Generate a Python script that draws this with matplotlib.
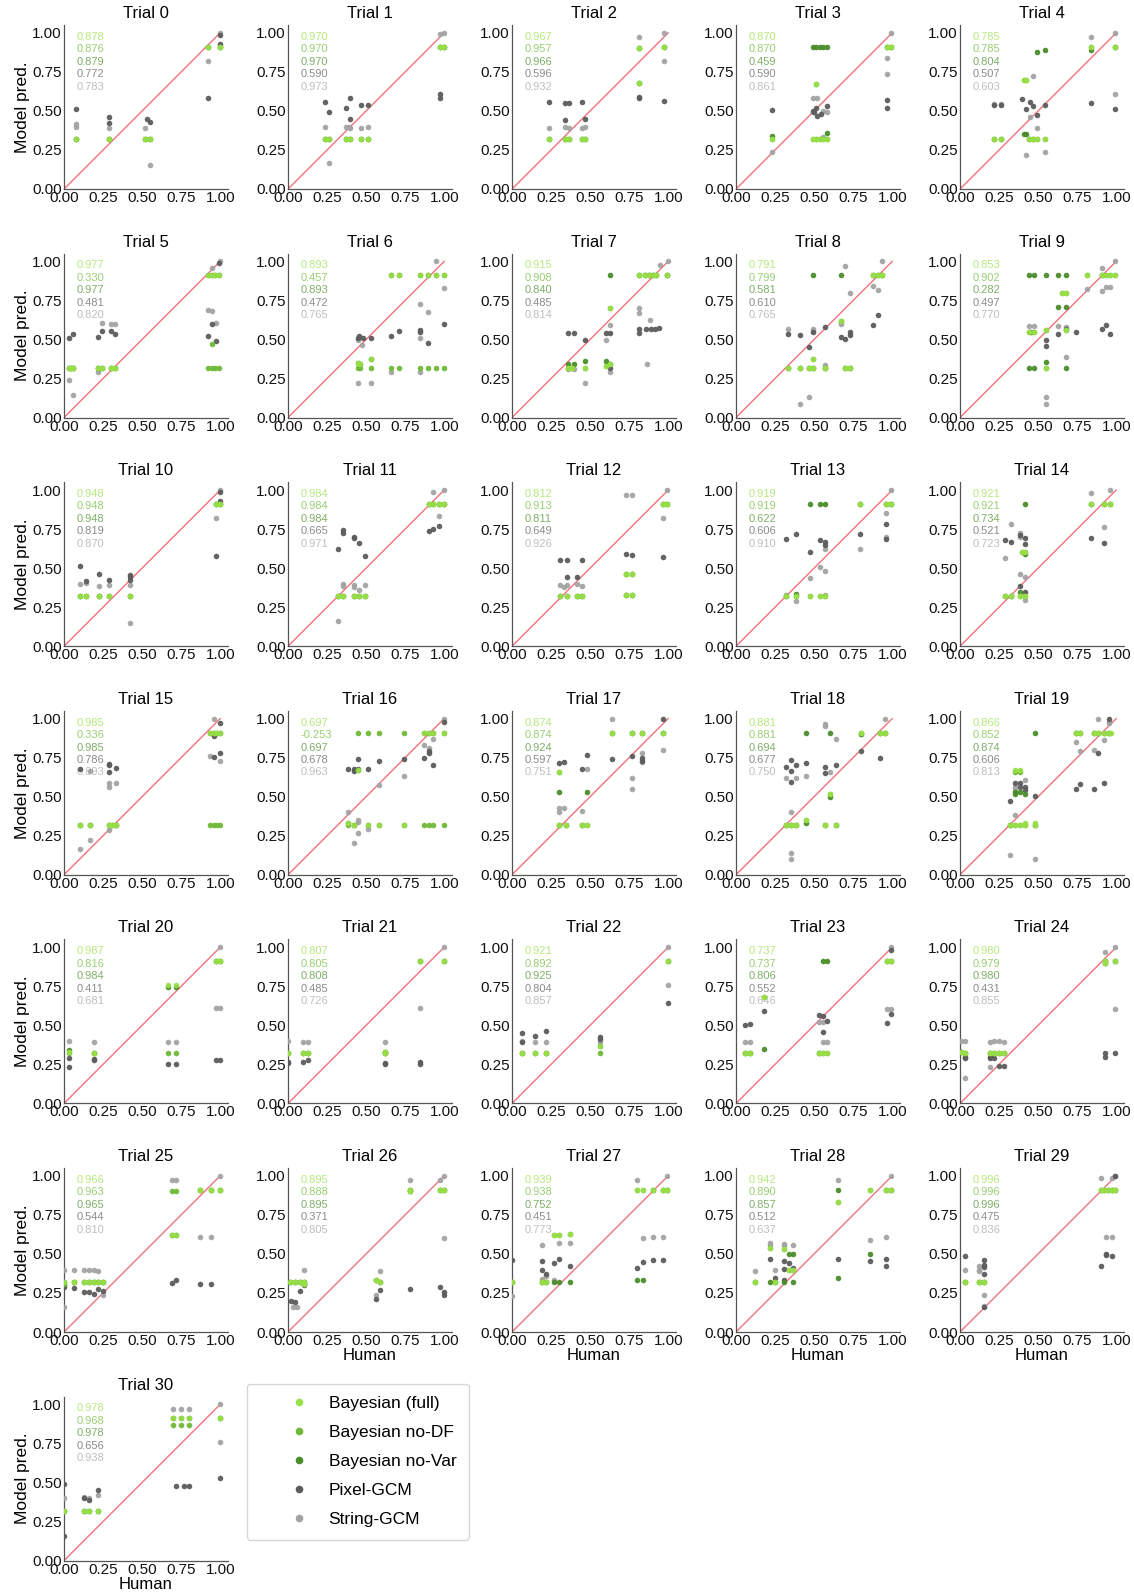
import matplotlib
matplotlib.use("Agg")
import matplotlib.pyplot as plt
from matplotlib.lines import Line2D

plt.rcParams['font.family'] = ['Liberation Sans', 'DejaVu Sans']

# model names and colours
models = ['Bayesian (full)', 'Bayesian no-DF', 'Bayesian no-Var', 'Pixel-GCM', 'String-GCM']
colors = ['#98df48', '#6eb937', '#4a8c2a', '#5c5c5c', '#a3a3a3']

# correlation printed in each panel (full, no-DF, no-Var, Pixel, String)
corrs = [
    ['0.878', '0.876', '0.879', '0.772', '0.783'],
    ['0.970', '0.970', '0.970', '0.590', '0.973'],
    ['0.967', '0.957', '0.966', '0.596', '0.932'],
    ['0.870', '0.870', '0.459', '0.590', '0.861'],
    ['0.785', '0.785', '0.804', '0.507', '0.603'],
    ['0.977', '0.330', '0.977', '0.481', '0.820'],
    ['0.893', '0.457', '0.893', '0.472', '0.765'],
    ['0.915', '0.908', '0.840', '0.485', '0.814'],
    ['0.791', '0.799', '0.581', '0.610', '0.765'],
    ['0.853', '0.902', '0.282', '0.497', '0.770'],
    ['0.948', '0.948', '0.948', '0.819', '0.870'],
    ['0.984', '0.984', '0.984', '0.665', '0.971'],
    ['0.812', '0.913', '0.811', '0.649', '0.926'],
    ['0.919', '0.919', '0.622', '0.606', '0.910'],
    ['0.921', '0.921', '0.734', '0.521', '0.723'],
    ['0.985', '0.336', '0.985', '0.786', '0.893'],
    ['0.697', '-0.253', '0.697', '0.678', '0.963'],
    ['0.874', '0.874', '0.924', '0.597', '0.751'],
    ['0.881', '0.881', '0.694', '0.677', '0.750'],
    ['0.866', '0.852', '0.874', '0.606', '0.813'],
    ['0.987', '0.816', '0.984', '0.411', '0.681'],
    ['0.807', '0.805', '0.808', '0.485', '0.726'],
    ['0.921', '0.892', '0.925', '0.804', '0.857'],
    ['0.737', '0.737', '0.806', '0.552', '0.646'],
    ['0.980', '0.979', '0.980', '0.431', '0.855'],
    ['0.966', '0.963', '0.965', '0.544', '0.810'],
    ['0.895', '0.888', '0.895', '0.371', '0.805'],
    ['0.939', '0.938', '0.752', '0.451', '0.773'],
    ['0.942', '0.890', '0.857', '0.512', '0.637'],
    ['0.996', '0.996', '0.996', '0.475', '0.836'],
    ['0.978', '0.968', '0.978', '0.656', '0.938'],
]

# (human, model) points per trial
bayes_full = [
    [(0.075, 0.32), (0.29, 0.32), (0.52, 0.32), (0.55, 0.32), (0.925, 0.91), (1.0, 0.91)],
    [(0.24, 0.32), (0.265, 0.32), (0.37, 0.32), (0.40, 0.32), (0.47, 0.32), (0.51, 0.32), (0.975, 0.91), (1.0, 0.91)],
    [(0.235, 0.32), (0.34, 0.32), (0.365, 0.32), (0.45, 0.32), (0.47, 0.32), (0.81, 0.90), (0.81, 0.68), (0.97, 0.91)],
    [(0.233, 0.32), (0.49, 0.32), (0.515, 0.32), (0.54, 0.32), (0.56, 0.32), (0.58, 0.32), (0.515, 0.67), (0.965, 0.91), (0.99, 0.91)],
    [(0.215, 0.32), (0.26, 0.32), (0.41, 0.70), (0.425, 0.70), (0.44, 0.32), (0.465, 0.32), (0.49, 0.32), (0.545, 0.32), (0.84, 0.91), (0.99, 0.91)],
    [(0.03, 0.32), (0.045, 0.32), (0.06, 0.32), (0.215, 0.32), (0.245, 0.32), (0.30, 0.32), (0.325, 0.32), (0.92, 0.91), (0.945, 0.91), (0.965, 0.91), (0.99, 0.91)],
    [(0.45, 0.35), (0.46, 0.34), (0.53, 0.375), (0.66, 0.91), (0.71, 0.91), (0.845, 0.91), (0.895, 0.91), (0.95, 0.91), (1.0, 0.91)],
    [(0.36, 0.32), (0.385, 0.32), (0.47, 0.32), (0.60, 0.33), (0.63, 0.70), (0.63, 0.34), (0.81, 0.91), (0.85, 0.91), (0.875, 0.91), (0.90, 0.91), (0.925, 0.91), (0.99, 0.91)],
    [(0.335, 0.32), (0.41, 0.32), (0.465, 0.32), (0.49, 0.375), (0.495, 0.32), (0.57, 0.32), (0.67, 0.62), (0.70, 0.32), (0.73, 0.32), (0.88, 0.91), (0.91, 0.91), (0.935, 0.91)],
    [(0.44, 0.55), (0.475, 0.55), (0.55, 0.56), (0.55, 0.32), (0.65, 0.795), (0.68, 0.795), (0.68, 0.56), (0.81, 0.91), (0.91, 0.91), (0.935, 0.91), (0.96, 0.91), (0.99, 0.91)],
    [(0.10, 0.32), (0.14, 0.32), (0.225, 0.32), (0.29, 0.32), (0.42, 0.32), (0.975, 0.91), (1.0, 0.91)],
    [(0.32, 0.32), (0.355, 0.32), (0.425, 0.32), (0.455, 0.32), (0.49, 0.32), (0.90, 0.91), (0.93, 0.91), (0.965, 0.91), (1.0, 0.91)],
    [(0.31, 0.32), (0.35, 0.32), (0.415, 0.32), (0.445, 0.32), (0.73, 0.46), (0.77, 0.46), (0.73, 0.33), (0.77, 0.33), (0.965, 0.91), (0.99, 0.91)],
    [(0.32, 0.32), (0.385, 0.32), (0.475, 0.32), (0.535, 0.32), (0.57, 0.32), (0.795, 0.91), (0.96, 0.91), (0.99, 0.91)],
    [(0.29, 0.32), (0.325, 0.32), (0.385, 0.32), (0.40, 0.60), (0.415, 0.60), (0.415, 0.32), (0.84, 0.91), (0.925, 0.91), (0.96, 0.91)],
    [(0.10, 0.32), (0.165, 0.32), (0.29, 0.32), (0.31, 0.32), (0.33, 0.32), (0.935, 0.91), (0.96, 0.91), (0.98, 0.91), (1.0, 0.91)],
    [(0.385, 0.33), (0.42, 0.32), (0.45, 0.67), (0.51, 0.32), (0.58, 0.32), (0.74, 0.32), (0.87, 0.91), (0.90, 0.91), (0.93, 0.91), (1.0, 0.91)],
    [(0.30, 0.66), (0.30, 0.32), (0.345, 0.32), (0.445, 0.32), (0.48, 0.32), (0.64, 0.91), (0.77, 0.91), (0.83, 0.91), (0.965, 0.91)],
    [(0.32, 0.32), (0.35, 0.32), (0.385, 0.32), (0.45, 0.35), (0.57, 0.32), (0.60, 0.52), (0.64, 0.32), (0.80, 0.91), (0.925, 0.91), (0.955, 0.91)],
    [(0.32, 0.32), (0.355, 0.67), (0.385, 0.67), (0.355, 0.32), (0.385, 0.32), (0.415, 0.33), (0.415, 0.32), (0.48, 0.33), (0.48, 0.32), (0.74, 0.91), (0.77, 0.91), (0.855, 0.91), (0.885, 0.91), (0.92, 0.91), (0.955, 0.91), (0.965, 0.91)],
    [(0.035, 0.33), (0.19, 0.32), (0.665, 0.755), (0.72, 0.755), (0.97, 0.91), (1.0, 0.91)],
    [(0.0, 0.32), (0.095, 0.32), (0.125, 0.32), (0.62, 0.33), (0.62, 0.32), (0.845, 0.91), (1.0, 0.91)],
    [(0.065, 0.32), (0.15, 0.32), (0.22, 0.32), (0.565, 0.37), (1.0, 0.91)],
    [(0.06, 0.32), (0.09, 0.32), (0.18, 0.68), (0.53, 0.32), (0.555, 0.32), (0.585, 0.32), (0.965, 0.91), (0.99, 0.91)],
    [(0.005, 0.33), (0.035, 0.32), (0.19, 0.32), (0.22, 0.32), (0.25, 0.32), (0.28, 0.32), (0.93, 0.91), (0.93, 0.90), (0.99, 0.91)],
    [(0.0, 0.32), (0.065, 0.32), (0.13, 0.32), (0.16, 0.32), (0.19, 0.32), (0.22, 0.32), (0.25, 0.32), (0.69, 0.62), (0.72, 0.62), (0.87, 0.91), (0.94, 0.91), (1.0, 0.91)],
    [(0.01, 0.32), (0.045, 0.32), (0.075, 0.32), (0.10, 0.32), (0.10, 0.31), (0.565, 0.33), (0.59, 0.32), (0.78, 0.91), (0.78, 0.905), (0.975, 0.91), (1.0, 0.91)],
    [(0.0, 0.32), (0.19, 0.32), (0.22, 0.32), (0.27, 0.62), (0.30, 0.62), (0.37, 0.63), (0.80, 0.91), (0.84, 0.91), (0.90, 0.91), (0.965, 0.91), (0.995, 0.91)],
    [(0.12, 0.32), (0.22, 0.535), (0.25, 0.32), (0.31, 0.53), (0.34, 0.40), (0.365, 0.40), (0.65, 0.835), (0.86, 0.91), (0.96, 0.91), (0.99, 0.91)],
    [(0.035, 0.32), (0.12, 0.32), (0.155, 0.32), (0.90, 0.91), (0.925, 0.91), (0.95, 0.91), (0.975, 0.91), (0.99, 0.91)],
    [(0.0, 0.32), (0.13, 0.32), (0.16, 0.32), (0.22, 0.32), (0.70, 0.91), (0.75, 0.91), (0.80, 0.91), (1.0, 0.91)],
]

# None = same predictions as Bayesian (full)
bayes_nodf = [None] * 31
bayes_nodf[5] = [(0.03, 0.32), (0.045, 0.32), (0.06, 0.32), (0.215, 0.32), (0.245, 0.32), (0.30, 0.32), (0.325, 0.32), (0.92, 0.32), (0.945, 0.32), (0.965, 0.32), (0.99, 0.32), (0.945, 0.47)]
bayes_nodf[6] = [(0.45, 0.32), (0.46, 0.32), (0.53, 0.32), (0.66, 0.32), (0.71, 0.32), (0.845, 0.32), (0.895, 0.32), (0.95, 0.32), (1.0, 0.32)]
bayes_nodf[15] = [(0.10, 0.32), (0.165, 0.32), (0.29, 0.32), (0.31, 0.32), (0.33, 0.32), (0.935, 0.32), (0.96, 0.32), (0.98, 0.32), (1.0, 0.32)]
bayes_nodf[16] = [(0.385, 0.32), (0.42, 0.32), (0.45, 0.91), (0.51, 0.91), (0.58, 0.91), (0.74, 0.91), (0.87, 0.32), (0.90, 0.32), (0.93, 0.32), (1.0, 0.32)]
bayes_nodf[19] = [(0.32, 0.32), (0.355, 0.655), (0.385, 0.655), (0.355, 0.32), (0.385, 0.32), (0.415, 0.32), (0.48, 0.32), (0.74, 0.91), (0.77, 0.91), (0.855, 0.91), (0.885, 0.91), (0.92, 0.91), (0.955, 0.91)]
bayes_nodf[20] = [(0.035, 0.32), (0.19, 0.32), (0.665, 0.32), (0.72, 0.32), (0.97, 0.91), (1.0, 0.91)]
bayes_nodf[22] = [(0.065, 0.32), (0.15, 0.32), (0.22, 0.32), (0.565, 0.32), (1.0, 0.91)]
bayes_nodf[25] = [(0.0, 0.31), (0.065, 0.32), (0.13, 0.32), (0.16, 0.32), (0.19, 0.32), (0.22, 0.32), (0.25, 0.32), (0.69, 0.90), (0.72, 0.90), (0.87, 0.91), (0.94, 0.91), (1.0, 0.91)]
bayes_nodf[30] = [(0.0, 0.32), (0.13, 0.32), (0.16, 0.32), (0.22, 0.32), (0.70, 0.87), (0.75, 0.87), (0.80, 0.87), (1.0, 0.91)]

bayes_novar = [None] * 31
bayes_novar[3] = [(0.233, 0.34), (0.49, 0.91), (0.515, 0.91), (0.54, 0.91), (0.56, 0.91), (0.58, 0.91), (0.58, 0.36), (0.965, 0.91), (0.99, 0.91)]
bayes_novar[4] = [(0.215, 0.32), (0.26, 0.32), (0.41, 0.355), (0.425, 0.355), (0.44, 0.32), (0.465, 0.32), (0.49, 0.88), (0.545, 0.89), (0.84, 0.89), (0.99, 0.91)]
bayes_novar[7] = [(0.36, 0.34), (0.40, 0.34), (0.47, 0.36), (0.60, 0.36), (0.63, 0.91), (0.63, 0.34), (0.81, 0.91), (0.85, 0.91), (0.875, 0.91), (0.90, 0.91), (0.925, 0.91), (0.99, 0.91)]
bayes_novar[8] = [(0.335, 0.32), (0.41, 0.32), (0.465, 0.32), (0.49, 0.91), (0.495, 0.32), (0.57, 0.32), (0.67, 0.91), (0.70, 0.32), (0.73, 0.32), (0.88, 0.91), (0.91, 0.91), (0.935, 0.91)]
bayes_novar[9] = [(0.44, 0.91), (0.475, 0.91), (0.44, 0.32), (0.475, 0.32), (0.55, 0.91), (0.55, 0.355), (0.63, 0.91), (0.63, 0.71), (0.68, 0.91), (0.68, 0.71), (0.68, 0.32), (0.91, 0.91)]
bayes_novar[13] = [(0.32, 0.32), (0.385, 0.335), (0.475, 0.91), (0.535, 0.91), (0.57, 0.91), (0.795, 0.91), (0.96, 0.91), (0.99, 0.91)]
bayes_novar[14] = [(0.29, 0.32), (0.325, 0.32), (0.385, 0.345), (0.415, 0.91), (0.415, 0.59), (0.84, 0.91), (0.925, 0.91), (0.96, 0.91)]
bayes_novar[17] = [(0.30, 0.53), (0.30, 0.32), (0.345, 0.32), (0.445, 0.32), (0.48, 0.53), (0.64, 0.91), (0.77, 0.91), (0.83, 0.91), (0.965, 0.91)]
bayes_novar[18] = [(0.32, 0.32), (0.35, 0.32), (0.385, 0.32), (0.45, 0.91), (0.45, 0.33), (0.57, 0.32), (0.60, 0.91), (0.60, 0.50), (0.64, 0.32), (0.80, 0.90), (0.925, 0.91), (0.955, 0.91)]
bayes_novar[19] = [(0.32, 0.32), (0.355, 0.53), (0.385, 0.53), (0.355, 0.52), (0.415, 0.52), (0.48, 0.91), (0.48, 0.32), (0.74, 0.91), (0.77, 0.91), (0.855, 0.91), (0.885, 0.91), (0.92, 0.91), (0.955, 0.91)]
bayes_novar[20] = [(0.035, 0.34), (0.19, 0.32), (0.665, 0.745), (0.72, 0.745), (0.97, 0.91), (1.0, 0.91)]
bayes_novar[23] = [(0.06, 0.32), (0.09, 0.32), (0.18, 0.35), (0.53, 0.32), (0.555, 0.91), (0.585, 0.91), (0.965, 0.91), (0.99, 0.91)]
bayes_novar[27] = [(0.0, 0.32), (0.19, 0.32), (0.22, 0.32), (0.27, 0.32), (0.30, 0.32), (0.37, 0.32), (0.80, 0.33), (0.84, 0.33), (0.90, 0.91), (0.965, 0.91), (0.995, 0.91)]
bayes_novar[28] = [(0.12, 0.32), (0.22, 0.32), (0.25, 0.32), (0.31, 0.32), (0.34, 0.50), (0.365, 0.50), (0.365, 0.32), (0.65, 0.91), (0.65, 0.345), (0.86, 0.50), (0.96, 0.91), (0.99, 0.91)]

pixel_gcm = [
    [(0.075, 0.51), (0.29, 0.46), (0.29, 0.42), (0.53, 0.45), (0.55, 0.43), (0.92, 0.58), (1.0, 0.93), (1.0, 0.985)],
    [(0.24, 0.555), (0.265, 0.49), (0.37, 0.52), (0.40, 0.58), (0.40, 0.445), (0.47, 0.535), (0.51, 0.54), (0.975, 0.61), (0.975, 0.58)],
    [(0.235, 0.555), (0.34, 0.55), (0.365, 0.55), (0.34, 0.44), (0.45, 0.555), (0.47, 0.45), (0.81, 0.59), (0.81, 0.58), (0.97, 0.565)],
    [(0.233, 0.505), (0.49, 0.50), (0.50, 0.49), (0.515, 0.52), (0.52, 0.465), (0.545, 0.48), (0.58, 0.53), (0.965, 0.57), (0.965, 0.52)],
    [(0.215, 0.535), (0.26, 0.535), (0.40, 0.575), (0.42, 0.51), (0.445, 0.555), (0.47, 0.53), (0.49, 0.475), (0.545, 0.54), (0.84, 0.55), (0.99, 0.515)],
    [(0.03, 0.51), (0.06, 0.535), (0.215, 0.515), (0.245, 0.555), (0.30, 0.555), (0.325, 0.535), (0.925, 0.525), (0.95, 0.60), (0.97, 0.49), (0.99, 0.99)],
    [(0.45, 0.51), (0.455, 0.52), (0.48, 0.51), (0.53, 0.51), (0.66, 0.525), (0.71, 0.555), (0.845, 0.56), (0.845, 0.55), (0.895, 0.475), (1.0, 0.60)],
    [(0.36, 0.54), (0.40, 0.54), (0.47, 0.495), (0.60, 0.54), (0.63, 0.54), (0.63, 0.32), (0.81, 0.565), (0.81, 0.54), (0.86, 0.57), (0.89, 0.565), (0.915, 0.565), (0.94, 0.575)],
    [(0.335, 0.535), (0.41, 0.53), (0.465, 0.45), (0.49, 0.545), (0.57, 0.58), (0.67, 0.515), (0.70, 0.505), (0.73, 0.545), (0.73, 0.53), (0.88, 0.595), (0.91, 0.66)],
    [(0.455, 0.545), (0.55, 0.50), (0.55, 0.46), (0.63, 0.535), (0.68, 0.57), (0.74, 0.545), (0.91, 0.565), (0.935, 0.59), (0.96, 0.535)],
    [(0.10, 0.515), (0.14, 0.42), (0.225, 0.46), (0.29, 0.425), (0.42, 0.455), (0.42, 0.44), (0.42, 0.425), (0.975, 0.58), (1.0, 0.93), (1.0, 0.985)],
    [(0.32, 0.625), (0.355, 0.745), (0.355, 0.725), (0.425, 0.70), (0.425, 0.69), (0.455, 0.66), (0.49, 0.58), (0.90, 0.74), (0.93, 0.75), (0.965, 0.77)],
    [(0.31, 0.55), (0.35, 0.55), (0.35, 0.44), (0.415, 0.445), (0.445, 0.55), (0.73, 0.59), (0.77, 0.585), (0.965, 0.57)],
    [(0.32, 0.685), (0.385, 0.72), (0.475, 0.605), (0.535, 0.68), (0.57, 0.665), (0.57, 0.645), (0.795, 0.72), (0.96, 0.785), (0.96, 0.685)],
    [(0.29, 0.68), (0.325, 0.67), (0.385, 0.715), (0.385, 0.385), (0.415, 0.69), (0.415, 0.655), (0.415, 0.345), (0.84, 0.69), (0.925, 0.66)],
    [(0.10, 0.68), (0.29, 0.71), (0.29, 0.70), (0.29, 0.655), (0.33, 0.685), (0.96, 0.89), (0.96, 0.755), (1.0, 0.97), (1.0, 0.78)],
    [(0.385, 0.68), (0.42, 0.675), (0.42, 0.665), (0.45, 0.74), (0.45, 0.68), (0.51, 0.68), (0.58, 0.73), (0.74, 0.74), (0.87, 0.75), (0.90, 0.79), (0.90, 0.78), (0.93, 0.70), (1.0, 0.98)],
    [(0.30, 0.715), (0.335, 0.72), (0.445, 0.675), (0.48, 0.77), (0.64, 0.74), (0.77, 0.76), (0.83, 0.75), (0.83, 0.73), (0.965, 1.0)],
    [(0.32, 0.69), (0.35, 0.735), (0.35, 0.665), (0.35, 0.595), (0.385, 0.70), (0.45, 0.715), (0.57, 0.69), (0.57, 0.65), (0.64, 0.705), (0.80, 0.79), (0.925, 0.745)],
    [(0.32, 0.47), (0.355, 0.59), (0.385, 0.585), (0.385, 0.565), (0.415, 0.56), (0.415, 0.545), (0.48, 0.505), (0.74, 0.55), (0.77, 0.58), (0.855, 0.55), (0.885, 0.78), (0.92, 0.59), (0.955, 1.0)],
    [(0.035, 0.29), (0.035, 0.235), (0.19, 0.285), (0.19, 0.28), (0.665, 0.255), (0.72, 0.25), (0.97, 0.275), (1.0, 0.275)],
    [(0.0, 0.265), (0.0, 0.26), (0.095, 0.265), (0.125, 0.28), (0.62, 0.26), (0.62, 0.255), (0.845, 0.265), (0.845, 0.255)],
    [(0.065, 0.45), (0.065, 0.39), (0.15, 0.43), (0.22, 0.465), (0.565, 0.425), (0.565, 0.415), (1.0, 0.64)],
    [(0.06, 0.505), (0.09, 0.51), (0.18, 0.59), (0.53, 0.565), (0.555, 0.56), (0.555, 0.46), (0.585, 0.53), (0.965, 0.515), (0.99, 0.575), (0.99, 0.98)],
    [(0.035, 0.30), (0.035, 0.29), (0.19, 0.30), (0.19, 0.29), (0.22, 0.29), (0.25, 0.24), (0.28, 0.24), (0.93, 0.32), (0.93, 0.30), (0.99, 0.32)],
    [(0.0, 0.30), (0.0, 0.29), (0.065, 0.28), (0.13, 0.255), (0.16, 0.255), (0.19, 0.245), (0.22, 0.275), (0.25, 0.26), (0.69, 0.315), (0.72, 0.33), (0.87, 0.31), (0.94, 0.305)],
    [(0.02, 0.20), (0.045, 0.19), (0.075, 0.26), (0.10, 0.30), (0.565, 0.21), (0.59, 0.27), (0.78, 0.275), (0.975, 0.29), (1.0, 0.255), (1.0, 0.235)],
    [(0.0, 0.46), (0.19, 0.455), (0.19, 0.40), (0.22, 0.37), (0.27, 0.44), (0.30, 0.47), (0.37, 0.42), (0.80, 0.41), (0.84, 0.45), (0.90, 0.46), (0.965, 0.46)],
    [(0.22, 0.465), (0.25, 0.345), (0.31, 0.455), (0.31, 0.405), (0.31, 0.335), (0.34, 0.44), (0.365, 0.41), (0.65, 0.465), (0.86, 0.455), (0.96, 0.465), (0.96, 0.42)],
    [(0.035, 0.485), (0.155, 0.46), (0.155, 0.43), (0.155, 0.415), (0.155, 0.37), (0.155, 0.16), (0.90, 0.42), (0.935, 0.50), (0.935, 0.49), (0.97, 0.485), (0.99, 1.0)],
    [(0.0, 0.49), (0.0, 0.16), (0.13, 0.40), (0.16, 0.39), (0.22, 0.45), (0.72, 0.48), (0.77, 0.48), (0.80, 0.48), (1.0, 0.53)],
]

string_gcm = [
    [(0.075, 0.40), (0.075, 0.415), (0.29, 0.39), (0.52, 0.39), (0.55, 0.155), (0.92, 0.82), (1.0, 1.0), (1.0, 0.92)],
    [(0.24, 0.40), (0.265, 0.165), (0.37, 0.40), (0.39, 0.40), (0.40, 0.39), (0.47, 0.39), (0.51, 0.40), (0.975, 0.99), (1.0, 1.0)],
    [(0.235, 0.39), (0.34, 0.40), (0.365, 0.39), (0.45, 0.39), (0.47, 0.40), (0.81, 0.97), (0.97, 1.0), (0.97, 0.82)],
    [(0.233, 0.24), (0.49, 0.58), (0.52, 0.58), (0.49, 0.49), (0.56, 0.50), (0.58, 0.49), (0.555, 0.33), (0.965, 0.84), (0.965, 0.735), (0.99, 1.0)],
    [(0.215, 0.545), (0.26, 0.545), (0.42, 0.22), (0.45, 0.46), (0.47, 0.725), (0.49, 0.39), (0.545, 0.24), (0.84, 0.97), (0.99, 1.0), (0.99, 0.61)],
    [(0.03, 0.24), (0.058, 0.145), (0.215, 0.295), (0.245, 0.605), (0.30, 0.60), (0.325, 0.60), (0.92, 0.69), (0.945, 0.685), (0.97, 0.605), (0.945, 0.955), (1.0, 1.0)],
    [(0.45, 0.22), (0.45, 0.50), (0.475, 0.465), (0.53, 0.22), (0.66, 0.295), (0.845, 0.73), (0.845, 0.51), (0.845, 0.295), (0.895, 0.675), (0.95, 1.0), (1.0, 0.83)],
    [(0.36, 0.31), (0.40, 0.31), (0.47, 0.22), (0.60, 0.50), (0.63, 0.59), (0.63, 0.29), (0.81, 0.70), (0.81, 0.67), (0.865, 0.345), (0.885, 0.625), (0.95, 0.975), (1.0, 1.0)],
    [(0.335, 0.57), (0.41, 0.09), (0.465, 0.13), (0.49, 0.57), (0.49, 0.555), (0.57, 0.335), (0.67, 0.61), (0.67, 0.60), (0.70, 0.97), (0.73, 0.795), (0.88, 0.84), (0.91, 0.82), (0.935, 1.0)],
    [(0.44, 0.585), (0.475, 0.585), (0.55, 0.13), (0.55, 0.09), (0.63, 0.585), (0.68, 0.58), (0.68, 0.39), (0.81, 0.825), (0.91, 0.96), (0.91, 0.81), (0.935, 0.835), (0.96, 0.835), (0.99, 1.0)],
    [(0.10, 0.40), (0.14, 0.405), (0.225, 0.385), (0.29, 0.39), (0.42, 0.39), (0.42, 0.15), (0.975, 0.82), (1.0, 1.0)],
    [(0.32, 0.16), (0.355, 0.40), (0.355, 0.385), (0.425, 0.39), (0.425, 0.38), (0.455, 0.36), (0.49, 0.39), (0.93, 0.985), (0.965, 0.835), (1.0, 1.0)],
    [(0.31, 0.39), (0.35, 0.39), (0.33, 0.38), (0.415, 0.40), (0.445, 0.385), (0.73, 0.97), (0.77, 0.97), (0.965, 0.82), (0.99, 1.0)],
    [(0.32, 0.33), (0.385, 0.29), (0.475, 0.435), (0.535, 0.51), (0.57, 0.62), (0.57, 0.48), (0.57, 0.33), (0.795, 0.625), (0.96, 0.85), (0.96, 0.70), (0.99, 1.0)],
    [(0.29, 0.565), (0.325, 0.78), (0.385, 0.725), (0.385, 0.70), (0.385, 0.46), (0.415, 0.445), (0.415, 0.295), (0.84, 0.98), (0.925, 0.76), (0.96, 1.0)],
    [(0.10, 0.165), (0.165, 0.665), (0.165, 0.225), (0.29, 0.59), (0.29, 0.565), (0.29, 0.29), (0.33, 0.585), (0.935, 0.76), (0.96, 1.0), (1.0, 0.73)],
    [(0.385, 0.40), (0.42, 0.205), (0.45, 0.35), (0.45, 0.34), (0.45, 0.265), (0.51, 0.295), (0.58, 0.575), (0.74, 0.635), (0.87, 0.83), (0.90, 0.81), (0.93, 0.87), (1.0, 1.0)],
    [(0.30, 0.43), (0.30, 0.40), (0.335, 0.425), (0.445, 0.41), (0.48, 0.675), (0.64, 1.0), (0.77, 0.62), (0.77, 0.55), (0.83, 0.78), (0.83, 0.72), (0.965, 0.80)],
    [(0.32, 0.62), (0.35, 0.40), (0.35, 0.14), (0.35, 0.10), (0.385, 0.62), (0.45, 0.635), (0.57, 0.965), (0.57, 0.955), (0.60, 0.655), (0.64, 0.87), (0.80, 0.90), (0.955, 1.0)],
    [(0.32, 0.125), (0.355, 0.56), (0.355, 0.55), (0.355, 0.38), (0.415, 0.61), (0.48, 0.10), (0.74, 0.85), (0.77, 0.79), (0.86, 0.80), (0.885, 1.0), (0.92, 0.86), (0.955, 0.98), (0.955, 0.97)],
    [(0.035, 0.40), (0.19, 0.39), (0.665, 0.39), (0.72, 0.39), (0.97, 0.61), (1.0, 0.61), (1.0, 1.0)],
    [(0.0, 0.40), (0.095, 0.39), (0.125, 0.39), (0.62, 0.39), (0.845, 0.61), (1.0, 1.0)],
    [(0.065, 0.40), (0.15, 0.39), (0.22, 0.39), (0.565, 0.395), (1.0, 1.0), (1.0, 0.76)],
    [(0.06, 0.39), (0.09, 0.39), (0.53, 0.52), (0.555, 0.52), (0.555, 0.39), (0.585, 0.39), (0.965, 0.605), (0.99, 0.605), (0.99, 1.0)],
    [(0.005, 0.40), (0.035, 0.40), (0.035, 0.16), (0.19, 0.39), (0.19, 0.235), (0.22, 0.40), (0.25, 0.40), (0.28, 0.39), (0.93, 0.97), (0.99, 1.0), (0.99, 0.605)],
    [(0.0, 0.40), (0.0, 0.16), (0.065, 0.40), (0.13, 0.40), (0.16, 0.40), (0.19, 0.395), (0.22, 0.39), (0.25, 0.235), (0.69, 0.97), (0.72, 0.97), (0.87, 0.61), (0.94, 0.61), (1.0, 1.0)],
    [(0.03, 0.16), (0.06, 0.16), (0.10, 0.40), (0.565, 0.24), (0.59, 0.39), (0.78, 0.97), (0.975, 0.97), (1.0, 1.0), (1.0, 0.605)],
    [(0.0, 0.23), (0.19, 0.56), (0.19, 0.34), (0.22, 0.36), (0.27, 0.335), (0.30, 0.57), (0.37, 0.57), (0.80, 0.97), (0.84, 0.60), (0.90, 0.61), (0.965, 0.61), (0.995, 1.0)],
    [(0.12, 0.39), (0.22, 0.57), (0.22, 0.56), (0.25, 0.40), (0.31, 0.565), (0.31, 0.555), (0.365, 0.555), (0.65, 0.97), (0.86, 0.59), (0.96, 0.61), (0.99, 1.0)],
    [(0.035, 0.40), (0.12, 0.42), (0.12, 0.40), (0.12, 0.39), (0.155, 0.24), (0.155, 0.165), (0.90, 0.985), (0.935, 0.61), (0.97, 0.61), (0.97, 0.985), (0.99, 1.0)],
    [(0.0, 0.40), (0.13, 0.41), (0.16, 0.40), (0.22, 0.42), (0.70, 0.97), (0.75, 0.97), (0.80, 0.97), (1.0, 1.0), (1.0, 0.76)],
]

ticks = [0.0, 0.25, 0.5, 0.75, 1.0]
tick_labels = ['0.00', '0.25', '0.50', '0.75', '1.00']

W, H = 1134, 1593
fig = plt.figure(figsize=(W / 100, H / 100), dpi=100)

n_trials = len(bayes_full)
for t in range(n_trials):
    r, c = divmod(t, 5)
    x0 = 64 + 224 * c
    y_zero = 189 + 228.6 * r
    ax = fig.add_axes([x0 / W, 1 - y_zero / H, 164 / W, 164 / H])

    series = [bayes_full[t],
              bayes_nodf[t] if bayes_nodf[t] is not None else bayes_full[t],
              bayes_novar[t] if bayes_novar[t] is not None else bayes_full[t],
              pixel_gcm[t], string_gcm[t]]
    # draw greys first, full model on top
    for k in [4, 3, 2, 1, 0]:
        pts = series[k]
        ax.scatter([p[0] for p in pts], [p[1] for p in pts], s=16,
                   color=colors[k], linewidths=0, alpha=0.95, zorder=3)

    ax.plot([0, 1], [0, 1], color='#f2707e', lw=1.0, zorder=2)

    for k in range(5):
        ax.text(0.08, 0.975 - 0.08 * k, corrs[t][k], color=colors[k], alpha=0.7,
                fontsize=8, va='center', ha='left', zorder=1)

    ax.set_xlim(0, 1.05)
    ax.set_ylim(0, 1.05)
    ax.set_xticks(ticks)
    ax.set_xticklabels(tick_labels)
    ax.set_yticks(ticks)
    ax.set_yticklabels(tick_labels)
    ax.tick_params(length=0, pad=1.5, labelsize=11, colors='#111111')
    for side in ['top', 'right']:
        ax.spines[side].set_visible(False)
    for side in ['left', 'bottom']:
        ax.spines[side].set_color('#555555')
        ax.spines[side].set_linewidth(0.9)
    ax.set_title('Trial %d' % t, fontsize=12, pad=5)
    if c == 0:
        ax.set_ylabel('Model pred.', fontsize=12.5, labelpad=2)
    if t >= 26:
        ax.set_xlabel('Human', fontsize=12, labelpad=0)

handles = [Line2D([], [], marker='o', linestyle='none', markersize=5.5,
                  markerfacecolor=colors[k], markeredgewidth=0, color=colors[k])
           for k in range(5)]
fig.legend(handles, models, loc='upper left',
           bbox_to_anchor=(247 / W, 1 - 1384 / H), borderaxespad=0, fontsize=12.5,
           frameon=True, fancybox=True, edgecolor='#cccccc',
           borderpad=0.7, labelspacing=0.8, handlelength=4.6, handletextpad=-0.6)

fig.savefig('out.png', dpi=100)
